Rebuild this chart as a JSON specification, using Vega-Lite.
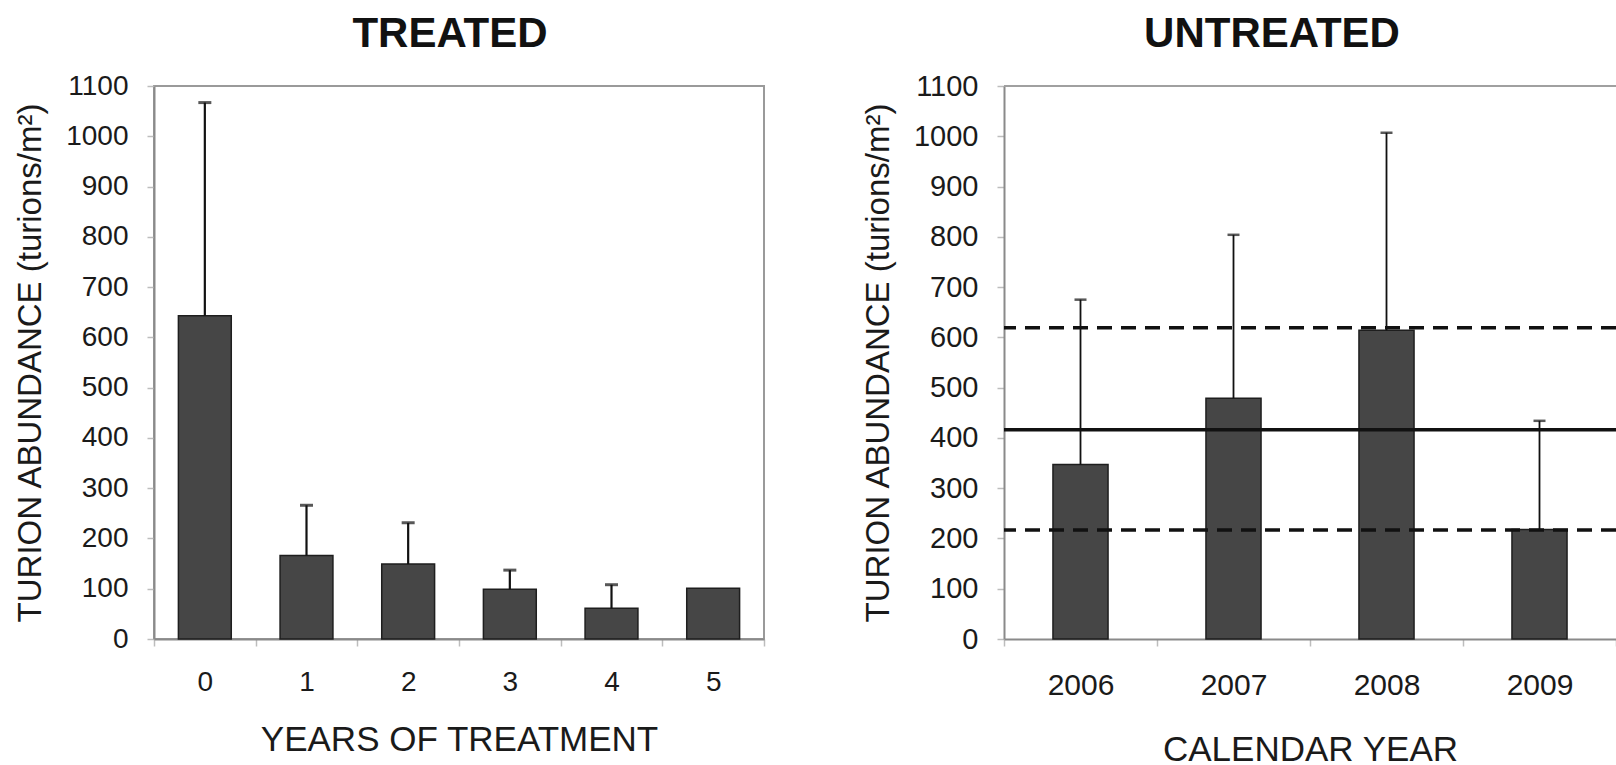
{
  "$schema": "https://vega.github.io/schema/vega-lite/v6.json",
  "background": "white",
  "padding": {"left": 13, "top": 12, "right": 0, "bottom": 0},
  "spacing": 96,
  "datasets": {
    "treated": [
      {"yr": "0", "mean": 643, "upper": 1067},
      {"yr": "1", "mean": 166, "upper": 266},
      {"yr": "2", "mean": 149, "upper": 231},
      {"yr": "3", "mean": 99, "upper": 137},
      {"yr": "4", "mean": 61, "upper": 108},
      {"yr": "5", "mean": 101, "upper": null}
    ],
    "untreated": [
      {"yr": "2006", "mean": 347, "upper": 675},
      {"yr": "2007", "mean": 479, "upper": 804},
      {"yr": "2008", "mean": 614, "upper": 1007},
      {"yr": "2009", "mean": 218, "upper": 434}
    ],
    "lines": [
      {"value": 416, "kind": "mean"},
      {"value": 619, "kind": "upper"},
      {"value": 217, "kind": "lower"}
    ]
  },
  "config": {
    "font": "Liberation Sans",
    "view": {"stroke": null},
    "axis": {
      "labelFont": "Liberation Sans",
      "titleFont": "Liberation Sans",
      "labelFontSize": 28,
      "labelColor": "#1a1a1a",
      "titleColor": "#1a1a1a",
      "titleFontWeight": "normal",
      "domainColor": "#8a8a8a",
      "domainWidth": 2,
      "tickColor": "#bdbdbd",
      "tickSize": 7,
      "tickWidth": 1.5,
      "grid": false
    },
    "title": {"font": "Liberation Sans", "fontSize": 42, "fontWeight": "bold", "color": "#111111", "offset": 16}
  },
  "hconcat": [
    {
      "title": {"text": "TREATED", "dx": -9},
      "width": 610,
      "height": 553,
      "view": {"stroke": "#9a9a9a", "strokeWidth": 2},
      "data": {"name": "treated"},
      "layer": [
        {
          "mark": {"type": "bar", "width": {"band": 0.52}, "fill": "#464646", "stroke": "#1e1e1e", "strokeWidth": 1.5},
          "encoding": {
            "x": {"field": "yr", "type": "ordinal", "sort": null, "scale": {"paddingInner": 0, "paddingOuter": 0},
              "axis": {"labelAngle": 0, "title": "YEARS OF TREATMENT", "titleFontSize": 35, "tickBand": "extent", "labelPadding": 22, "titlePadding": 26}},
            "y": {"field": "mean", "type": "quantitative", "scale": {"domain": [0, 1100], "nice": false},
              "title": "TURION ABUNDANCE (turions/m²)",
              "axis": {"values": [0, 100, 200, 300, 400, 500, 600, 700, 800, 900, 1000, 1100], "format": "d", "titleFontSize": 33, "labelPadding": 19, "titlePadding": 18}}
          }
        },
        {
          "transform": [{"filter": "datum.upper != null"}],
          "mark": {"type": "rule", "color": "#111111", "strokeWidth": 2.2},
          "encoding": {
            "x": {"field": "yr", "type": "ordinal", "sort": null},
            "y": {"field": "mean", "type": "quantitative", "title": "TURION ABUNDANCE (turions/m²)"},
            "y2": {"field": "upper"}
          }
        },
        {
          "transform": [{"filter": "datum.upper != null"}],
          "mark": {"type": "tick", "color": "#111111", "size": 13, "thickness": 3},
          "encoding": {
            "x": {"field": "yr", "type": "ordinal", "sort": null},
            "y": {"field": "upper", "type": "quantitative", "title": "TURION ABUNDANCE (turions/m²)"}
          }
        }
      ]
    },
    {
      "title": {"text": "UNTREATED", "dx": -38},
      "width": 612,
      "height": 553,
      "layer": [
        {
          "data": {"name": "untreated"},
          "mark": {"type": "bar", "width": {"band": 0.36}, "fill": "#464646", "stroke": "#1e1e1e", "strokeWidth": 1.5},
          "encoding": {
            "x": {"field": "yr", "type": "ordinal", "sort": null, "scale": {"paddingInner": 0, "paddingOuter": 0},
              "axis": {"labelAngle": 0, "title": "CALENDAR YEAR", "titleFontSize": 35, "labelFontSize": 30, "tickBand": "extent", "labelPadding": 24, "titlePadding": 32}},
            "y": {"field": "mean", "type": "quantitative", "scale": {"domain": [0, 1100], "nice": false},
              "title": "TURION ABUNDANCE (turions/m²)",
              "axis": {"values": [0, 100, 200, 300, 400, 500, 600, 700, 800, 900, 1000, 1100], "format": "d", "labelFontSize": 29, "titleFontSize": 33, "labelPadding": 19, "titlePadding": 18}}
          }
        },
        {
          "data": {"name": "untreated"},
          "mark": {"type": "rule", "color": "#111111", "strokeWidth": 1.8},
          "encoding": {
            "x": {"field": "yr", "type": "ordinal", "sort": null},
            "y": {"field": "mean", "type": "quantitative", "title": "TURION ABUNDANCE (turions/m²)"},
            "y2": {"field": "upper"}
          }
        },
        {
          "data": {"name": "untreated"},
          "mark": {"type": "tick", "color": "#111111", "size": 12, "thickness": 2.5},
          "encoding": {
            "x": {"field": "yr", "type": "ordinal", "sort": null},
            "y": {"field": "upper", "type": "quantitative", "title": "TURION ABUNDANCE (turions/m²)"}
          }
        },
        {
          "data": {"name": "lines"},
          "mark": {"type": "rule", "color": "#111111", "strokeWidth": 3.5},
          "encoding": {
            "y": {"field": "value", "type": "quantitative", "title": "TURION ABUNDANCE (turions/m²)"},
            "strokeDash": {"field": "kind", "type": "nominal", "legend": null,
              "scale": {"domain": ["mean", "upper", "lower"], "range": [[1, 0], [15, 9], [15, 9]]}}
          }
        },
        {
          "data": {"name": "lines"},
          "mark": {"type": "rule", "color": "#a0a0a0", "strokeWidth": 2},
          "encoding": {
            "y": {"datum": 1100, "type": "quantitative"}
          }
        }
      ]
    }
  ]
}
